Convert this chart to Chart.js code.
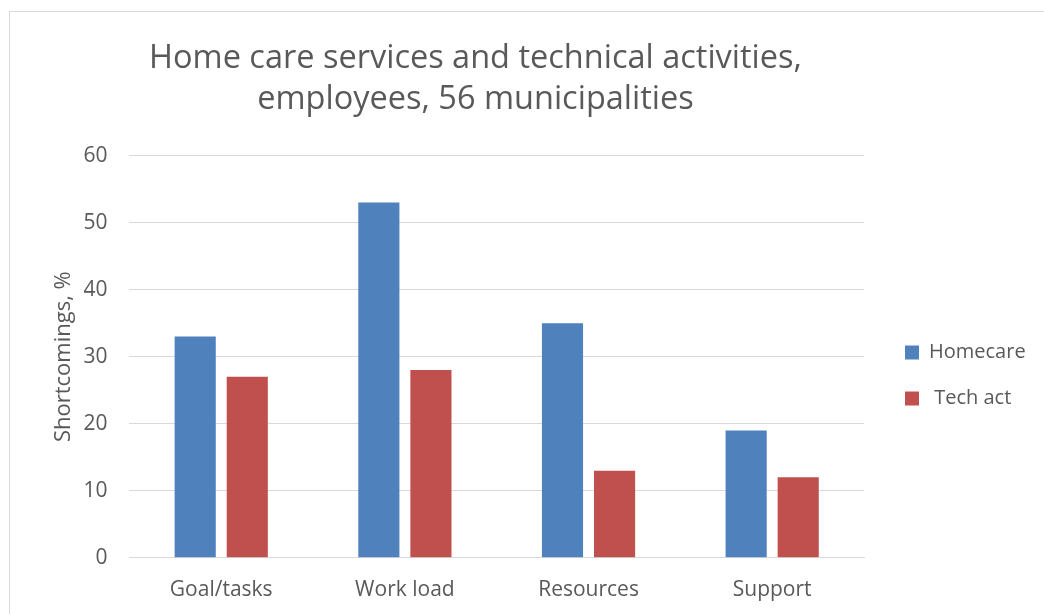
<!DOCTYPE html>
<html>
<head>
<meta charset="utf-8">
<script src="https://cdn.jsdelivr.net/npm/chart.js@4.4.0/dist/chart.umd.min.js"></script>
<style>
  html, body { margin: 0; padding: 0; background: #fff; overflow: hidden; }
  #frame { position: absolute; left: 9px; top: 11px; width: 1100px; height: 700px; border: 1px solid #d9d9d9; }
  #wrap { position: absolute; left: 0; top: 0; width: 1034px; height: 602px; }
</style>
</head>
<body>
<div id="frame"><div id="wrap"><canvas id="chart"></canvas></div></div>
<script>
const categories = ['Goal/tasks', 'Work load', 'Resources', 'Support'];
const homecare = [33, 53, 35, 19];
const techAct = [27, 28, 13, 12];
const seriesNames = ['Homecare', ' Tech act'];
const titleLines = ['Home care services and technical activities,', 'employees, 56 municipalities'];
const yTitle = 'Shortcomings, %';

const textColor = '#595959';
const gridColor = '#d9d9d9';

// nudge legend and title like the spreadsheet layout
const layoutTweak = {
    id: 'layoutTweak',
    beforeInit(chart) {
        const legend = chart.legend;
        const fit = legend.fit;
        legend.fit = function() {
            fit.call(this);
            this.width = 180;
        };
    },
    afterLayout(chart) {
        chart.legend.left += 15;
        chart.legend.top += 62;
        chart.legend.bottom += 62;
        chart.titleBlock.right -= 128;
    }
};

const ctx = document.getElementById('chart').getContext('2d');
new Chart(ctx, {
    type: 'bar',
    data: {
        labels: categories,
        datasets: [{
            label: seriesNames[0],
            data: homecare,
            backgroundColor: '#4f81bd'
        }, {
            label: seriesNames[1],
            data: techAct,
            backgroundColor: '#c0504d'
        }]
    },
    options: {
        responsive: true,
        maintainAspectRatio: false,
        animation: false,
        layout: { padding: { left: 25, right: 0, top: 0, bottom: -1 } },
        datasets: {
            bar: { categoryPercentage: 0.567, barPercentage: 0.79 }
        },
        plugins: {
            title: {
                display: true,
                text: titleLines,
                color: textColor,
                font: { family: 'Open Sans', size: 32.5, weight: 'normal', lineHeight: 1.27 },
                padding: { top: 26, bottom: 35 }
            },
            legend: {
                position: 'right',
                labels: {
                    color: textColor,
                    font: { family: 'Open Sans', size: 20 },
                    boxWidth: 14,
                    boxHeight: 14,
                    padding: 26
                }
            },
            tooltip: { enabled: false }
        },
        scales: {
            x: {
                grid: { display: false },
                border: { color: gridColor },
                ticks: {
                    color: textColor,
                    font: { family: 'Open Sans', size: 21 },
                    padding: 12
                }
            },
            y: {
                min: 0,
                max: 60,
                ticks: {
                    stepSize: 10,
                    color: textColor,
                    font: { family: 'Open Sans', size: 21 },
                    padding: 22
                },
                grid: { color: gridColor, drawTicks: false },
                border: { display: false },
                title: {
                    display: true,
                    text: yTitle,
                    color: textColor,
                    font: { family: 'Open Sans', size: 22 },
                    padding: { top: 16, bottom: -16 }
                }
            }
        }
    },
    plugins: [layoutTweak]
});
</script>
</body>
</html>
